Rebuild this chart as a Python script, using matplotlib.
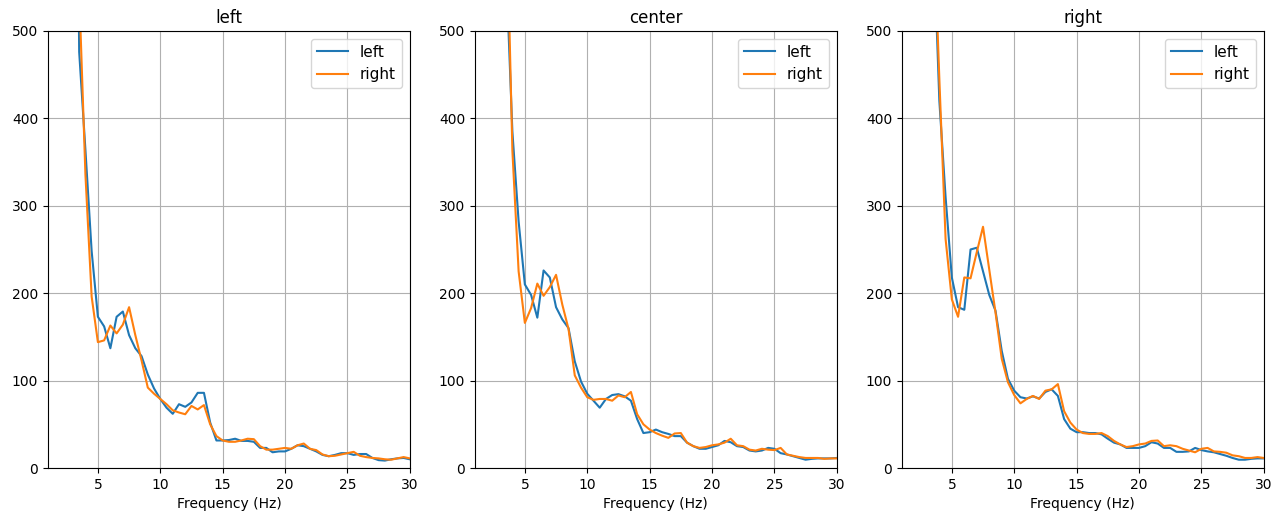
import numpy as np
import matplotlib
matplotlib.use("Agg")
import matplotlib.pyplot as plt

# frequency bins (0.5 Hz resolution)
freqs = np.arange(1.0, 30.5, 0.5)

panels = ["left", "center", "right"]

left_left = [2600, 2400, 2100, 1700, 1200, 476, 364, 248, 173, 162, 137, 173, 179, 152, 137, 128,
             107, 91, 79, 69, 62, 73, 70, 75, 86, 86, 52, 31.5, 31.5, 32, 33.5, 31, 31, 30, 23, 23,
             18, 19, 19, 22, 26, 25, 22, 19, 15, 13.5, 15, 17, 17, 15, 16, 16, 11.5, 9, 8.5, 10,
             11, 11.5, 10]
left_right = [2800, 2500, 2200, 1800, 1300, 546, 336, 196, 144, 146, 163, 154, 164, 184, 152, 123,
              92, 85, 79, 73, 66, 63.5, 61.5, 71, 67, 72, 50, 36.5, 31.5, 30, 30, 31.5, 33.5, 33,
              25, 21, 21, 22, 23, 22, 26, 28, 22, 20.5, 15.5, 13.5, 14, 15.5, 17, 18.5, 14, 12.5,
              11.5, 11, 10, 9.5, 11, 12.5, 11]

center_left = [2700, 2500, 2200, 1800, 1300, 570, 385, 282, 210, 198, 172, 226, 218, 184, 170, 160,
               122, 99, 85, 77, 69, 79, 83.5, 84.5, 82, 77, 56, 40, 41, 44, 41, 39, 36.5, 36.5, 29,
               25, 22, 22, 24, 26, 31, 29.5, 25, 24, 20, 19, 20, 23, 22, 17, 15.5, 13.5, 11.5, 9.5,
               10.5, 11, 11, 11, 11.5]
center_right = [2900, 2600, 2300, 1900, 1400, 661, 363, 225, 166, 183, 211, 197, 207, 221, 187, 159,
                106, 92, 81, 78, 79, 79, 77, 83, 81, 87, 61.5, 50, 44, 40, 37, 34.5, 39.5, 40, 29,
                25, 23, 24, 26, 27, 29, 33.5, 26, 25, 21, 20, 22, 21, 20.5, 23, 15.5, 14, 12.5,
                11.5, 11.5, 11.5, 10.5, 11, 11]

right_left = [3000, 2700, 2300, 1800, 1300, 620, 420, 310, 218, 184, 181, 250, 252, 225, 198, 180,
              134, 102, 88.5, 81, 79.5, 82, 79.5, 87, 90, 82.5, 56, 45, 41, 41, 40, 40, 38.5, 33.5,
              29, 27, 23, 23, 23, 25, 29.5, 28, 23, 23, 18.5, 18.5, 19, 23, 20.5, 19, 18, 16, 14,
              11.5, 9.5, 9.5, 10.5, 11, 11]
right_right = [3200, 2900, 2500, 2000, 1500, 641, 445, 262, 193, 173, 218, 217, 247, 276, 227, 178,
               125, 98, 83.5, 74, 79, 82.5, 79, 88.5, 90, 96, 65, 52, 44, 40, 39, 39, 40, 36.5, 31,
               27, 24, 25, 27, 28, 31, 31.5, 25, 26, 25, 22, 20, 18, 22, 23, 19, 18.5, 17.5, 14.5,
               13.5, 11.5, 11.5, 12.5, 11.5]

series = {
    "left": (left_left, left_right),
    "center": (center_left, center_right),
    "right": (right_left, right_right),
}

fig, axes = plt.subplots(1, 3, figsize=(12.83, 5.16), dpi=100)
fig.subplots_adjust(left=0.0374, right=0.985, top=0.94, bottom=0.093, wspace=0.18)

for ax, name in zip(axes, panels):
    l, r = series[name]
    ax.plot(freqs, l, label="left")
    ax.plot(freqs, r, label="right")
    ax.set_xlim(1, 30)
    ax.set_ylim(0, 500)
    ax.set_title(name)
    ax.set_xlabel("Frequency (Hz)")
    ax.grid(True)
    ax.legend(loc="upper right", fontsize=11)

fig.savefig("out.png")
